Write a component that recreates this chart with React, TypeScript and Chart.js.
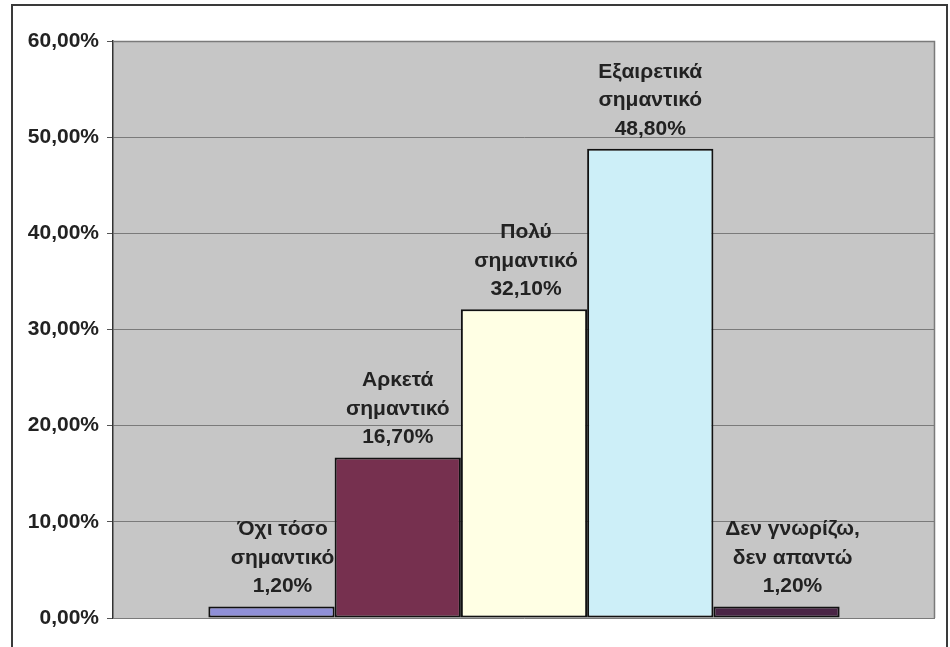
import React, { useEffect, useRef } from "react";
import { Chart, registerables } from "chart.js";

Chart.register(...registerables);

const categories = ["Όχι τόσο σημαντικό", "Αρκετά σημαντικό", "Πολύ σημαντικό", "Εξαιρετικά σημαντικό", "Δεν γνωρίζω, δεν απαντώ"];
const labelLines = [
  ["Όχι τόσο", "σημαντικό"],
  ["Αρκετά", "σημαντικό"],
  ["Πολύ", "σημαντικό"],
  ["Εξαιρετικά", "σημαντικό"],
  ["Δεν γνωρίζω,", "δεν απαντώ"],
];
const values = [1.2, 16.7, 32.1, 48.8, 1.2];
const barColors = ["#9090D8", "#76304F", "#FFFFE4", "#CDEFF8", "#4A2546"];
const yTicks = [0, 10, 20, 30, 40, 50, 60];

const FONT = "'Liberation Sans', Arial, sans-serif";
const fmt = (v: number) => v.toFixed(2).replace(".", ",") + "%";
const labelXShift = [11, 0, 2, 0, 16];

const framePlugin = {
  id: "frame",
  beforeDraw(chart: any) {
    const { ctx, chartArea: a } = chart;
    ctx.save();
    ctx.fillStyle = "#ffffff";
    ctx.fillRect(0, 0, chart.width, chart.height);
    ctx.strokeStyle = "#3a3a3a";
    ctx.lineWidth = 2;
    ctx.strokeRect(12, 5, 935, 700);
    ctx.fillStyle = "#C6C6C6";
    ctx.fillRect(a.left, a.top, a.right - a.left, a.bottom - a.top);
    ctx.restore();
  },
  afterDraw(chart: any) {
    const { ctx, chartArea: a } = chart;
    ctx.save();
    ctx.strokeStyle = "#7a7a7a";
    ctx.lineWidth = 1.5;
    ctx.beginPath();
    ctx.moveTo(a.left, a.top + 0.5);
    ctx.lineTo(a.right - 0.5, a.top + 0.5);
    ctx.lineTo(a.right - 0.5, a.bottom);
    ctx.stroke();
    ctx.restore();
  },
};

const labelPlugin = {
  id: "barLabels",
  afterDatasetsDraw(chart: any) {
    const { ctx } = chart;
    ctx.save();
    ctx.font = `bold 21px ${FONT}`;
    ctx.fillStyle = "#222222";
    ctx.textAlign = "center";
    ctx.textBaseline = "alphabetic";
    chart.data.datasets.forEach((ds: any, i: number) => {
      const el = chart.getDatasetMeta(i).data[0];
      if (!el) return;
      const lines = [...labelLines[i], fmt(values[i])];
      const x = el.x + labelXShift[i];
      let y = el.y - 14;
      for (let k = lines.length - 1; k >= 0; k--) {
        ctx.fillText(lines[k], x, y);
        y -= 28.5;
      }
    });
    ctx.restore();
  },
};

export default function App() {
  const ref = useRef<HTMLCanvasElement>(null);
  useEffect(() => {
    if (!ref.current) return;
    const chart = new Chart(ref.current, {
      type: "bar",
      data: {
        labels: [""],
        datasets: values.map((v, i) => ({
          label: categories[i],
          data: [v],
          backgroundColor: barColors[i],
          borderColor: "#111111",
          borderWidth: 2,
          borderSkipped: false,
          categoryPercentage: 0.768,
          barPercentage: 1,
        })),
      },
      options: {
        responsive: false,
        animation: false,
        layout: { padding: { left: 0, top: 41, right: 15, bottom: 29 } },
        plugins: { legend: { display: false }, tooltip: { enabled: false } },
        scales: {
          x: { display: false },
          y: {
            min: 0,
            max: 60,
            afterFit(s: any) {
              s.width = 113;
            },
            afterBuildTicks(s: any) {
              s.ticks = yTicks.map((v) => ({ value: v }));
            },
            ticks: {
              font: { family: FONT, size: 21, weight: "bold" },
              color: "#222222",
              padding: 8,
              callback: (v: any) => fmt(Number(v)),
            },
            grid: {
              color: "#7a7a7a",
              lineWidth: 1,
              tickLength: 6,
              tickColor: "#555555",
            },
            border: { color: "#333333", width: 1.5 },
          },
        },
      },
      plugins: [framePlugin, labelPlugin],
    });
    return () => chart.destroy();
  }, []);
  return (
    <div style={{ position: "fixed", left: 0, top: 0, width: 950, height: 647 }}>
      <canvas ref={ref} width={950} height={647} style={{ display: "block" }} />
    </div>
  );
}
